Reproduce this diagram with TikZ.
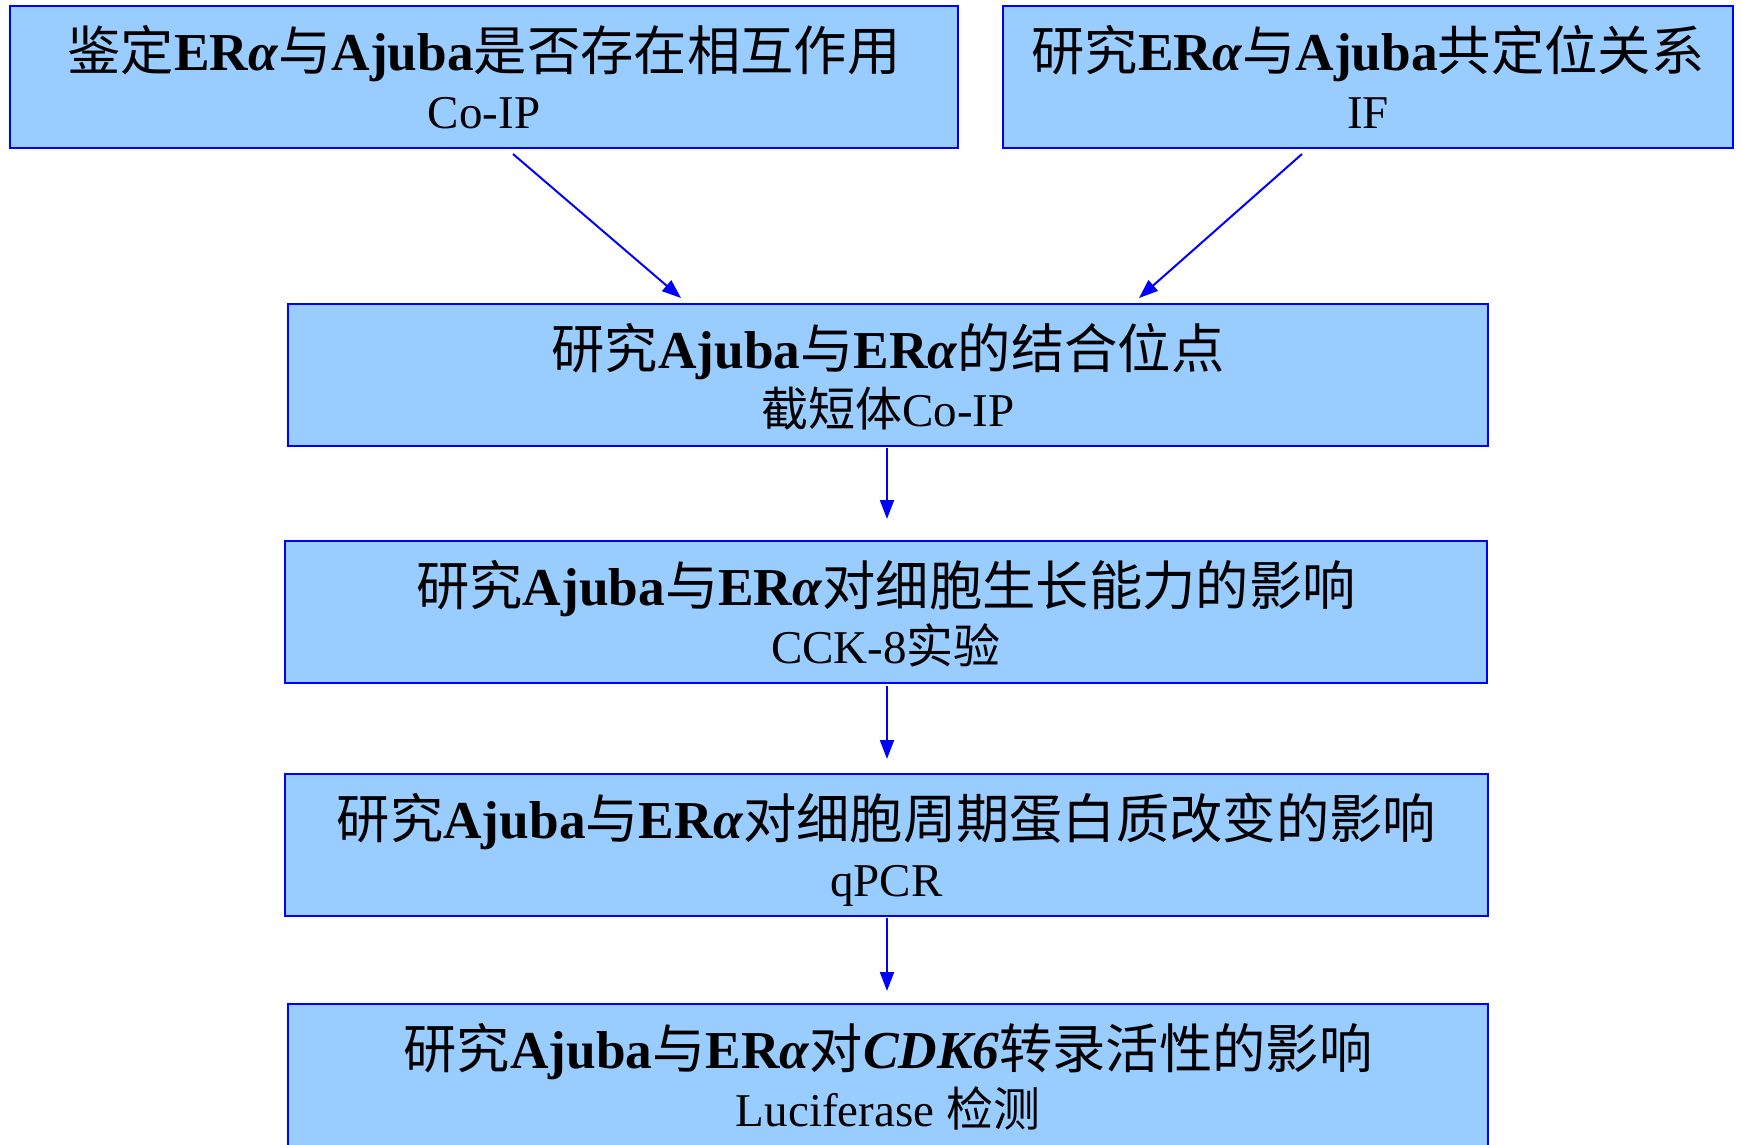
\documentclass[tikz,border=0pt]{standalone}
\usepackage{fontspec}
\setmainfont{Liberation Serif}
\newfontfamily\cjk{Noto Sans CJK SC}
\usetikzlibrary{arrows.meta}
\definecolor{boxfill}{HTML}{99CCFF}
\definecolor{boxline}{HTML}{0000FF}
\definecolor{arrblue}{HTML}{0000FF}
\newcommand\zh[1]{{\cjk\mdseries\upshape #1}}
\tikzset{
  box/.style={draw=boxline, fill=boxfill, line width=2pt, minimum height=142pt, inner sep=0pt},
  ttl/.style={anchor=base, inner sep=0pt, font=\fontsize{53.3}{60}\selectfont\bfseries},
  sub/.style={anchor=base, inner sep=0pt, font=\fontsize{47}{52}\selectfont},
  arr/.style={draw=arrblue, line width=2pt, -{Triangle[length=19pt,width=14pt]}}
}
\begin{document}
\begin{tikzpicture}[x=1pt,y=-1pt]
\useasboundingbox (0,0) rectangle (1741,1144);
\clip (0,0) rectangle (1741,1144);
\node[box, minimum width=948pt] (b1) at (484,77) {};
\node[box, minimum width=730pt] (b2) at (1368,77) {};
\node[box, minimum width=1200pt] (b3) at (888,375) {};
\node[box, minimum width=1202pt] (b4) at (886,612) {};
\node[box, minimum width=1203pt] (b5) at (886.5,845) {};
\node[box, minimum width=1200pt] (b6) at (888,1075) {};

\node[ttl] (t1) at ([yshift=7pt]b1.center) {\zh{鉴定}ER\textit{α}\zh{与}Ajuba\zh{是否存在相互作用}};
\node[sub] (s1) at ([yshift=-51pt]b1.center) {Co-IP};
\node[ttl] (t2) at ([yshift=7pt]b2.center) {\zh{研究}ER\textit{α}\zh{与}Ajuba\zh{共定位关系}};
\node[sub] (s2) at ([yshift=-51pt]b2.center) {IF};
\node[ttl] (t3) at ([yshift=7pt]b3.center) {\zh{研究}Ajuba\zh{与}ER\textit{α}\zh{的结合位点}};
\node[sub] (s3) at ([yshift=-51pt]b3.center) {\zh{截短体}Co-IP};
\node[ttl] (t4) at ([yshift=7pt]b4.center) {\zh{研究}Ajuba\zh{与}ER\textit{α}\zh{对细胞生长能力的影响}};
\node[sub] (s4) at ([yshift=-51pt]b4.center) {CCK-8\zh{实验}};
\node[ttl] (t5) at ([yshift=7pt]b5.center) {\zh{研究}Ajuba\zh{与}ER\textit{α}\zh{对细胞周期蛋白质改变的影响}};
\node[sub] (s5) at ([yshift=-51pt]b5.center) {qPCR};
\node[ttl] (t6) at ([yshift=7pt]b6.center) {\zh{研究}Ajuba\zh{与}ER\textit{α}\zh{对}\textit{CDK6}\zh{转录活性的影响}};
\node[sub] (s6) at ([yshift=-51pt]b6.center) {Luciferase \zh{检测}};

\draw[arr] ([xshift=29pt,yshift=-5pt]b1.south) -- ([xshift=-207pt,yshift=5pt]b3.north);
\draw[arr] ([xshift=-66pt,yshift=-5pt]b2.south) -- ([xshift=251pt,yshift=5pt]b3.north);
\draw[arr] ([xshift=-1pt,yshift=-1pt]b3.south) -- ([xshift=1pt,yshift=21pt]b4.north);
\draw[arr] ([xshift=1pt,yshift=-2pt]b4.south) -- ([xshift=0.5pt,yshift=14pt]b5.north);
\draw[arr] ([xshift=0.5pt,yshift=-1pt]b5.south) -- ([xshift=-1pt,yshift=12pt]b6.north);
\end{tikzpicture}
\end{document}
